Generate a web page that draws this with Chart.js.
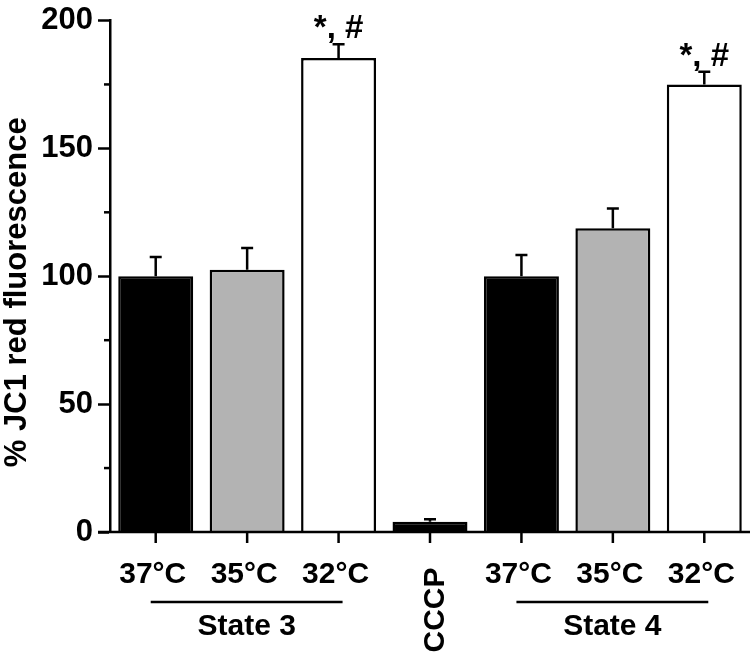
<!DOCTYPE html>
<html><head><meta charset="utf-8">
<script src="https://cdn.jsdelivr.net/npm/chart.js@4/dist/chart.umd.min.js"></script>
<style>html,body{margin:0;padding:0;background:#fff}</style>
</head><body>
<canvas id="c" width="750" height="656"></canvas>
<script>
// ---- data ----
const categories = ['37°C', '35°C', '32°C', 'CCCP', '37°C', '35°C', '32°C'];
const means      = [100, 102.5, 185.3, 4.0, 100, 118.8, 175];
const errors     = [7.5, 8.5, 5.4, 1.0, 8.3, 7.7, 5.0];
const marks      = ['', '', '*, #', '', '', '', '*, #'];
const groupLabels = ['State 3', 'State 4'];
const groupFirst  = [0, 4];
const groupLast   = [2, 6];
const yTicks = [0, 50, 100, 150, 200];
const yMinorTicks = [25, 75, 125, 175];
const yTitle = '% JC1 red fluorescence';

// ---- styles ----
const barFills = ['#000000', '#b3b3b3', '#ffffff', '#000000', '#000000', '#b3b3b3', '#ffffff'];
const FAMILY = '"Liberation Sans", Arial, Helvetica, sans-serif';
const FONT = 'bold 30px ' + FAMILY;
const TITLE_FONT = 'bold 31px ' + FAMILY;
const MARK_FONT = 'bold 33px ' + FAMILY;
const LW = 2.5;

const overlay = {
  id: 'overlay',
  afterDatasetsDraw(chart) {
    const ctx = chart.ctx, y = chart.scales.y;
    const meta = chart.getDatasetMeta(0);
    ctx.save();
    ctx.strokeStyle = '#000'; ctx.fillStyle = '#000'; ctx.lineWidth = LW;
    meta.data.forEach((bar, i) => {
      const top = y.getPixelForValue(means[i]);
      const capY = y.getPixelForValue(means[i] + errors[i]);
      ctx.beginPath();
      ctx.moveTo(bar.x, top); ctx.lineTo(bar.x, capY);
      ctx.moveTo(bar.x - 6, capY); ctx.lineTo(bar.x + 6, capY);
      ctx.stroke();
      if (marks[i]) {
        ctx.font = MARK_FONT; ctx.textAlign = 'center'; ctx.textBaseline = 'alphabetic';
        ctx.fillText(marks[i], bar.x, capY - 6);
      }
    });
    ctx.restore();
  },
  afterDraw(chart) {
    const ctx = chart.ctx, x = chart.scales.x, y = chart.scales.y;
    const y0 = y.getPixelForValue(0);
    const axisX = chart.chartArea.left;
    ctx.save();
    ctx.strokeStyle = '#000'; ctx.fillStyle = '#000'; ctx.lineWidth = LW;
    // x axis line (extends left past the y axis)
    ctx.beginPath(); ctx.moveTo(axisX - 12, y0); ctx.lineTo(chart.chartArea.right, y0); ctx.stroke();
    // minor y ticks
    yMinorTicks.forEach(v => {
      const py = y.getPixelForValue(v);
      ctx.beginPath(); ctx.moveTo(axisX - 6, py); ctx.lineTo(axisX, py); ctx.stroke();
    });
    // x ticks and labels
    ctx.font = FONT;
    categories.forEach((c, i) => {
      const px = x.getPixelForValue(i);
      ctx.beginPath(); ctx.moveTo(px, y0); ctx.lineTo(px, y0 + 11); ctx.stroke();
      if (c === 'CCCP') {
        ctx.save();
        ctx.translate(px + 14, y0 + 78);
        ctx.rotate(-Math.PI / 2);
        ctx.textAlign = 'center'; ctx.textBaseline = 'alphabetic';
        ctx.fillText(c, 0, 0);
        ctx.restore();
      } else {
        ctx.textAlign = 'center'; ctx.textBaseline = 'alphabetic';
        ctx.fillText(c, px - 3, y0 + 51);
      }
    });
    // group lines and labels
    groupLabels.forEach((g, k) => {
      const a = x.getPixelForValue(groupFirst[k]) - 5;
      const b = x.getPixelForValue(groupLast[k]) + 4;
      const ly = y0 + 70;
      ctx.beginPath(); ctx.moveTo(a, ly); ctx.lineTo(b, ly); ctx.stroke();
      ctx.textAlign = 'center'; ctx.textBaseline = 'alphabetic';
      ctx.fillText(g, (a + b) / 2, y0 + 103);
    });
    // y title
    ctx.save();
    ctx.font = TITLE_FONT;
    ctx.translate(26, (y.top + y0) / 2 + 16);
    ctx.rotate(-Math.PI / 2);
    ctx.textAlign = 'center'; ctx.textBaseline = 'alphabetic';
    ctx.fillText(yTitle, 0, 0);
    ctx.restore();
    ctx.restore();
  }
};

new Chart(document.getElementById('c'), {
  type: 'bar',
  data: {
    labels: categories,
    datasets: [{
      data: means,
      backgroundColor: barFills,
      borderColor: '#000',
      borderWidth: LW,
      borderSkipped: 'start',
      barPercentage: 0.82,
      categoryPercentage: 1.0
    }]
  },
  options: {
    responsive: false,
    animation: false,
    devicePixelRatio: 1,
    layout: { padding: { top: 15, right: 0, left: 0, bottom: 0 } },
    plugins: { legend: { display: false }, tooltip: { enabled: false } },
    scales: {
      x: {
        ticks: { display: false },
        grid: { display: false },
        border: { display: false },
        afterFit(s) { s.height = 124; }
      },
      y: {
        min: 0, max: 200,
        afterBuildTicks(s) { s.ticks = yTicks.map(v => ({ value: v })); },
        ticks: {
          color: '#000', padding: 5,
          font: { family: FAMILY, size: 31, weight: 'bold', lineHeight: 1 }
        },
        grid: { drawOnChartArea: false, drawTicks: true, tickLength: 12, tickColor: '#000', tickWidth: LW },
        border: { display: true, color: '#000', width: LW },
        afterFit(s) { s.width = 110; }
      }
    }
  },
  plugins: [overlay]
});
</script>
</body></html>
